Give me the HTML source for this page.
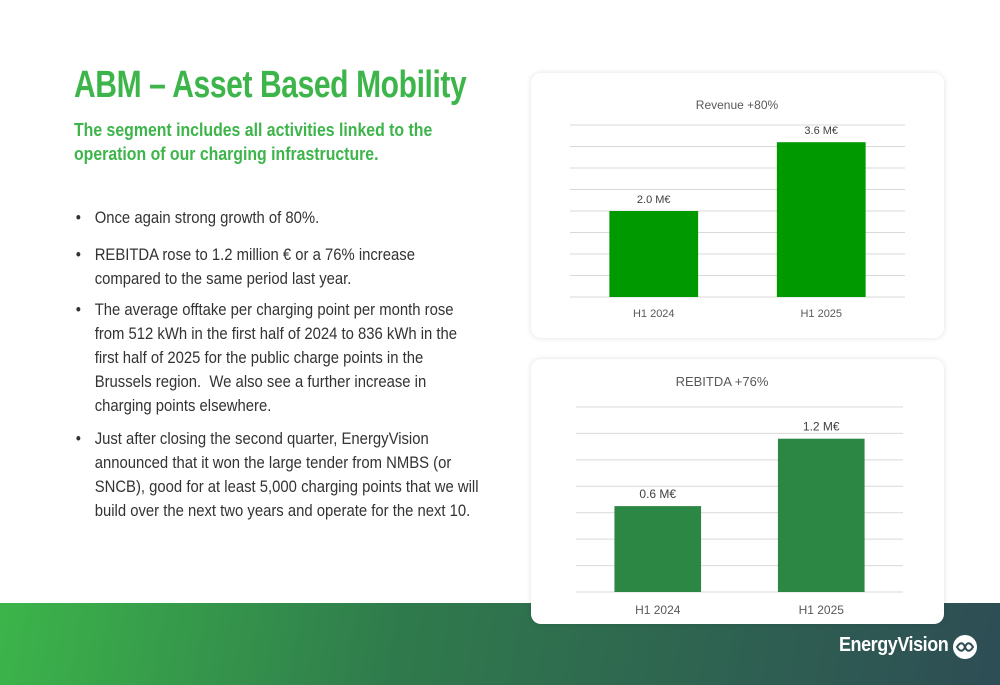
<!DOCTYPE html>
<html><head><meta charset="utf-8">
<style>
body{margin:0;width:1000px;height:685px;overflow:hidden;background:#fff;font-family:"Liberation Sans",sans-serif;position:relative}
.band{position:absolute;left:0;top:603px;width:1000px;height:82px;background:linear-gradient(100deg,#3cb54a 0%,#2f7a4c 40%,#2e4d55 100%)}
.title{position:absolute;left:74px;top:64px;font-size:38px;font-weight:bold;color:#3db54a;transform:scaleX(0.79);transform-origin:left top;white-space:nowrap;letter-spacing:-0.5px}
.sub{position:absolute;left:74px;top:118px;font-size:18px;font-weight:bold;color:#3db54a;line-height:24px;transform:scaleX(0.88);transform-origin:left top;white-space:nowrap}
.bul{position:absolute;left:74px;font-size:16.5px;color:#333;line-height:24px;white-space:nowrap;transform:scaleX(0.9);transform-origin:left top}
.bul .dot{position:absolute;left:2px;top:0}
.bul .t{margin-left:23px;display:block}
.card{position:absolute;left:531px;width:413px;height:265px;background:#fff;border-radius:10px;box-shadow:0 0 6px rgba(0,0,0,0.12)}
.logo{position:absolute;left:839px;top:634px;color:#fff;font-size:20px;font-weight:bold;letter-spacing:-0.5px;transform:scaleX(0.9);transform-origin:left top;white-space:nowrap}
</style></head><body>
<div class="band"></div>
<div class="title">ABM – Asset Based Mobility</div>
<div class="sub">The segment includes all activities linked to the<br>operation of our charging infrastructure.</div>
<div class="bul" style="top:206px"><span class="dot">•</span><span class="t">Once again strong growth of 80%.</span></div>
<div class="bul" style="top:243px"><span class="dot">•</span><span class="t">REBITDA rose to 1.2 million € or a 76% increase<br>compared to the same period last year.</span></div>
<div class="bul" style="top:298px"><span class="dot">•</span><span class="t">The average offtake per charging point per month rose<br>from 512 kWh in the first half of 2024 to 836 kWh in the<br>first half of 2025 for the public charge points in the<br>Brussels region.&nbsp; We also see a further increase in<br>charging points elsewhere.</span></div>
<div class="bul" style="top:427px"><span class="dot">•</span><span class="t">Just after closing the second quarter, EnergyVision<br>announced that it won the large tender from NMBS (or<br>SNCB), good for at least 5,000 charging points that we will<br>build over the next two years and operate for the next 10.</span></div>

<div class="card" style="top:73px">
<svg id="c1" width="413" height="265"></svg></div>
<div class="card" style="top:359px">
<svg id="c2" width="413" height="265"></svg></div>

<div class="logo">EnergyVision</div>
<svg style="position:absolute;left:952px;top:633px" width="26" height="28">
<circle cx="13" cy="14" r="12" fill="#fff"/><path d="M5 14c3-5 6-5 8 0s5 5 8 0c-3-5-6-5-8 0s-5 5-8 0z" fill="none" stroke="#2e4d55" stroke-width="2"/></svg>

<script>
const revCategories=["H1 2024","H1 2025"];
const revValues=[2.0,3.6];
const revLabels=["2.0 M€","3.6 M€"];
const rebCategories=["H1 2024","H1 2025"];
const rebValues=[0.65,1.16];
const rebLabels=["0.6 M€","1.2 M€"];
const NS="http://www.w3.org/2000/svg";
function mk(svg,tag,attrs){const e=document.createElementNS(NS,tag);for(const k in attrs)e.setAttribute(k,attrs[k]);svg.appendChild(e);return e;}
function draw(id,title,cats,vals,labels,cfg){
  const svg=document.getElementById(id);
  const y=v=>cfg.base-(v/cfg.max)*(cfg.base-cfg.top);
  const t=mk(svg,"text",{x:cfg.tx,y:cfg.ty,"text-anchor":"middle","font-size":cfg.tfs,fill:"#595959","font-family":"Liberation Sans, sans-serif"});
  t.textContent=title;
  
  
  for(let i=0;i<=cfg.n;i++){
    const v=cfg.max*i/cfg.n;
    const g=mk(svg,"line",{x1:cfg.x0,x2:cfg.x1,y1:y(v),y2:y(v),stroke:"#d9d9d9","stroke-width":1});
    
    
  }
  const bw=(cfg.x1-cfg.x0)/cats.length;
  cats.forEach((c,i)=>{
    const cx=cfg.x0+bw*(i+0.5);
    const w=bw*0.53;
    const r=mk(svg,"rect",{x:cx-w/2,y:y(vals[i]),width:w,height:cfg.base-y(vals[i]),fill:cfg.color});
    
    
    const l=mk(svg,"text",{x:cx,y:y(vals[i])-8,"text-anchor":"middle","font-size":cfg.fs,fill:"#404040","font-family":"Liberation Sans, sans-serif"});
    l.textContent=labels[i];
    
    
    const a=mk(svg,"text",{x:cx,y:cfg.base+cfg.ly,"text-anchor":"middle","font-size":cfg.fs,fill:"#595959","font-family":"Liberation Sans, sans-serif"});
    a.textContent=c;
    
    
  });
}
draw("c1","Revenue +80%",revCategories,revValues,revLabels,{x0:39,x1:374,top:52,base:224,max:4,n:8,tx:206,ty:36,tfs:12,fs:11,ly:20,color:"#009900"});
draw("c2","REBITDA +76%",rebCategories,rebValues,rebLabels,{x0:45,x1:372,top:48,base:233,max:1.4,n:7,tx:191,ty:27,tfs:13,fs:12,ly:22,color:"#2d8744"});
</script>
</body></html>
